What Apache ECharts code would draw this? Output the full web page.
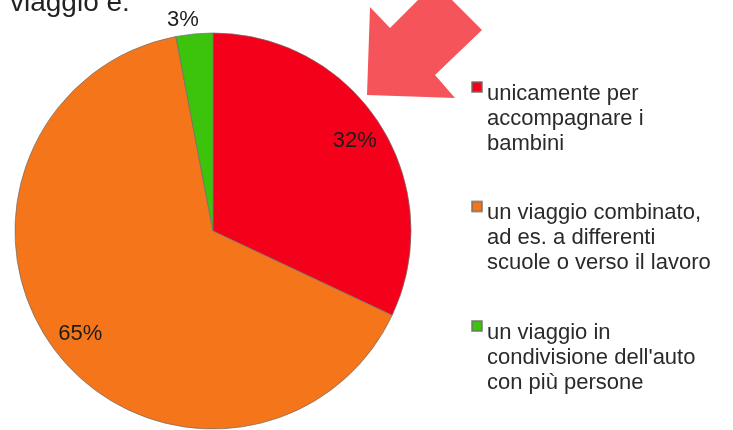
<!DOCTYPE html>
<html>
<head>
<meta charset="utf-8">
<script src="https://cdn.jsdelivr.net/npm/echarts@6/dist/echarts.min.js"></script>
<style>
html,body{margin:0;padding:0;background:#fff;}
#chart{width:733px;height:430px;}
</style>
</head>
<body>
<div id="chart"></div>
<script>
// Data
const categories = [
  "unicamente per\naccompagnare i\nbambini",
  "un viaggio combinato,\nad es. a differenti\nscuole o verso il lavoro",
  "un viaggio in\ncondivisione dell'auto\ncon più persone"
];
const values = [32, 65, 3];
const colors = ["#f4001a", "#f5761a", "#3cc30c"];
const titleText = "viaggio è:";

const FONT = "'Liberation Sans', Arial, Helvetica, sans-serif";

const chart = echarts.init(document.getElementById('chart'), null, {renderer: 'canvas'});

const pieData = categories.map((n, i) => ({
  name: n,
  value: values[i],
  itemStyle: {color: colors[i]}
}));

const labelData = categories.map((n, i) => {
  const d = {name: n, value: values[i]};
  if (i === 2) {
    d.label = {
      position: 'outside',
      formatter: '{a|{c}%}',
      rich: {a: {width: 21, align: 'left', fontFamily: FONT, fontSize: 22, color: '#1c1c1c'}}
    };
    d.labelLine = {show: false, length: 14, length2: 0};
  }
  return d;
});

chart.setOption({
  animation: false,
  backgroundColor: '#ffffff',
  title: {
    text: titleText,
    left: 10,
    top: -11,
    padding: 0,
    textStyle: {fontFamily: FONT, fontSize: 28, fontWeight: 'normal', color: '#222222'}
  },
  legend: {
    orient: 'vertical',
    left: 471,
    top: 18,
    padding: 0,
    itemGap: -18.5,
    itemWidth: 10,
    itemHeight: 10,
    icon: 'rect',
    selectedMode: false,
    data: categories,
    formatter: function (name) { return '{s| }\n{s| }\n' + name; },
    textStyle: {
      fontFamily: FONT,
      fontSize: 22,
      lineHeight: 25,
      color: '#2a2a2a',
      rich: {
        s: {fontFamily: FONT, fontSize: 22, lineHeight: 31.5}
      }
    }
  },
  series: [
    {
      type: 'pie',
      center: [213, 231],
      radius: [0, 198],
      startAngle: 90,
      clockwise: true,
      silent: true,
      label: {show: false},
      labelLine: {show: false},
      itemStyle: {borderColor: 'rgba(110,110,110,0.7)', borderWidth: 1},
      emphasis: {disabled: true},
      data: pieData
    },
    {
      type: 'pie',
      center: [213, 231],
      radius: [132, 198],
      startAngle: 90,
      clockwise: true,
      silent: true,
      avoidLabelOverlap: false,
      itemStyle: {color: 'rgba(0,0,0,0)', borderWidth: 0},
      emphasis: {disabled: true},
      label: {
        show: true,
        position: 'inside',
        formatter: '{c}%',
        fontFamily: FONT,
        fontSize: 22,
        color: '#1c1c1c'
      },
      labelLine: {show: false},
      data: labelData
    }
  ],
  graphic: [
    {
      type: 'polygon',
      silent: true,
      shape: {
        points: [[367, 95], [370, 7], [390, 28], [435, -17], [482, 30], [435, 75], [455, 98]]
      },
      style: {fill: '#f5555a'}
    }
  ]
});
</script>
</body>
</html>
